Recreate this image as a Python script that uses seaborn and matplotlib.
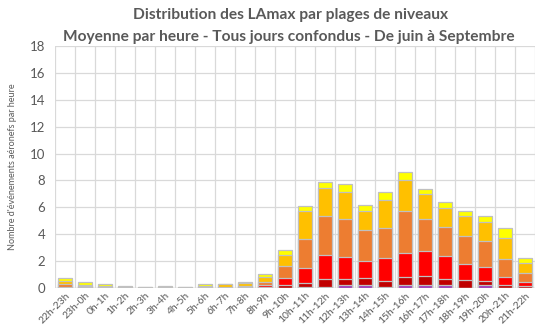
import matplotlib
matplotlib.use("Agg")
import matplotlib.pyplot as plt
import numpy as np
import pandas as pd
import seaborn as sns

# Hourly slots
hours = ["22h-23h", "23h-0h", "0h-1h", "1h-2h", "2h-3h", "3h-4h", "4h-5h", "5h-6h",
         "6h-7h", "7h-8h", "8h-9h", "9h-10h", "10h-11h", "11h-12h", "12h-13h", "13h-14h",
         "14h-15h", "15h-16h", "16h-17h", "17h-18h", "18h-19h", "19h-20h", "20h-21h", "21h-22h"]

# Mean number of aircraft events per hour, by LAmax level band (bottom to top of stack)
band_violet = [0, 0, 0, 0, 0, 0, 0, 0, 0, 0, 0.02, 0.03, 0.05, 0.10, 0.25, 0.20,
               0.08, 0.25, 0.25, 0.20, 0.03, 0.25, 0.03, 0.03]
band_bordeaux = [0.03, 0.02, 0, 0, 0, 0, 0, 0, 0, 0.02, 0.05, 0.20, 0.30, 0.55, 0.42, 0.55,
                 0.45, 0.55, 0.62, 0.50, 0.55, 0.30, 0.20, 0.10]
band_rouge = [0.05, 0.03, 0.02, 0.02, 0, 0, 0, 0.02, 0.02, 0.03, 0.17, 0.50, 1.15, 1.79, 1.67, 1.25,
              1.67, 1.82, 1.87, 1.67, 1.20, 0.99, 0.62, 0.30]
band_orange = [0.25, 0.08, 0.05, 0.03, 0.02, 0.02, 0.02, 0.03, 0.07, 0.10, 0.20, 0.87, 2.11, 2.94, 2.81, 2.31,
               2.24, 3.09, 2.37, 2.19, 2.12, 1.95, 1.27, 0.72]
band_or = [0.17, 0.12, 0.10, 0.05, 0.03, 0.03, 0.03, 0.08, 0.18, 0.25, 0.37, 0.88, 2.12, 2.04, 1.99, 1.42,
           2.12, 2.31, 1.87, 1.42, 1.49, 1.42, 1.59, 0.70]
band_jaune = [0.28, 0.20, 0.13, 0.03, 0.05, 0.07, 0.02, 0.15, 0.05, 0.05, 0.20, 0.37, 0.40, 0.50, 0.63, 0.45,
              0.55, 0.62, 0.37, 0.40, 0.37, 0.42, 0.75, 0.40]

bands = [band_violet, band_bordeaux, band_rouge, band_orange, band_or, band_jaune]
colors = ["#9E3AB8", "#C00000", "#FF0000", "#ED7D31", "#FFC000", "#FFFF00"]

sns.set_theme(style="white")
plt.rcParams["font.family"] = ["Lato", "DejaVu Sans"]

fig = plt.figure(figsize=(5.39, 3.29), dpi=100)
ax = fig.add_axes([55 / 539, (329 - 288) / 329, 480 / 539, 242 / 329])

# Cumulative totals, drawn from the top of the stack downwards
cum = np.cumsum(np.array(bands), axis=0)
for level in range(len(bands) - 1, -1, -1):
    df = pd.DataFrame({"heure": hours, "valeur": cum[level]})
    sns.barplot(data=df, x="heure", y="valeur", color=colors[level], saturation=1,
                width=0.7, edgecolor="#C0C0C0", linewidth=0.9, ax=ax, zorder=3)

ax.set_ylim(0, 18)
ax.set_xlim(-0.5, len(hours) - 0.5)
ax.set_yticks(np.arange(0, 19, 2))
ax.set_xticks(np.arange(len(hours)), hours)
ax.set_xticks(np.arange(-0.5, len(hours)), minor=True)
ax.grid(True, axis="y", color="#D9D9D9", linewidth=0.9, zorder=0)
ax.grid(True, axis="x", which="minor", color="#D9D9D9", linewidth=0.9, zorder=0)
ax.grid(False, axis="x", which="major")
for s in ax.spines.values():
    s.set_visible(False)
ax.axhline(0, color="#D9D9D9", linewidth=1, zorder=1)

ax.tick_params(axis="y", labelsize=9.5, colors="#595959", length=0, pad=7)
ax.tick_params(axis="x", which="both", length=0, pad=2)
for lab in ax.get_xticklabels():
    lab.set_rotation(45)
    lab.set_ha("right")
    lab.set_rotation_mode("anchor")
    lab.set_fontsize(7.5)
    lab.set_color("#595959")

ax.set_xlabel("")
ax.set_ylabel("Nombre d'événements aéronefs par heure", fontsize=6.5, color="#595959", labelpad=9)

fig.text(0.54, 0.953, "Distribution des LAmax par plages de niveaux",
         ha="center", va="center", fontsize=11.2, fontweight="bold", color="#595959")
fig.text(0.535, 0.889, "Moyenne par heure - Tous jours confondus - De juin à Septembre",
         ha="center", va="center", fontsize=11.2, fontweight="bold", color="#595959")

fig.savefig("out.png", dpi=100)
